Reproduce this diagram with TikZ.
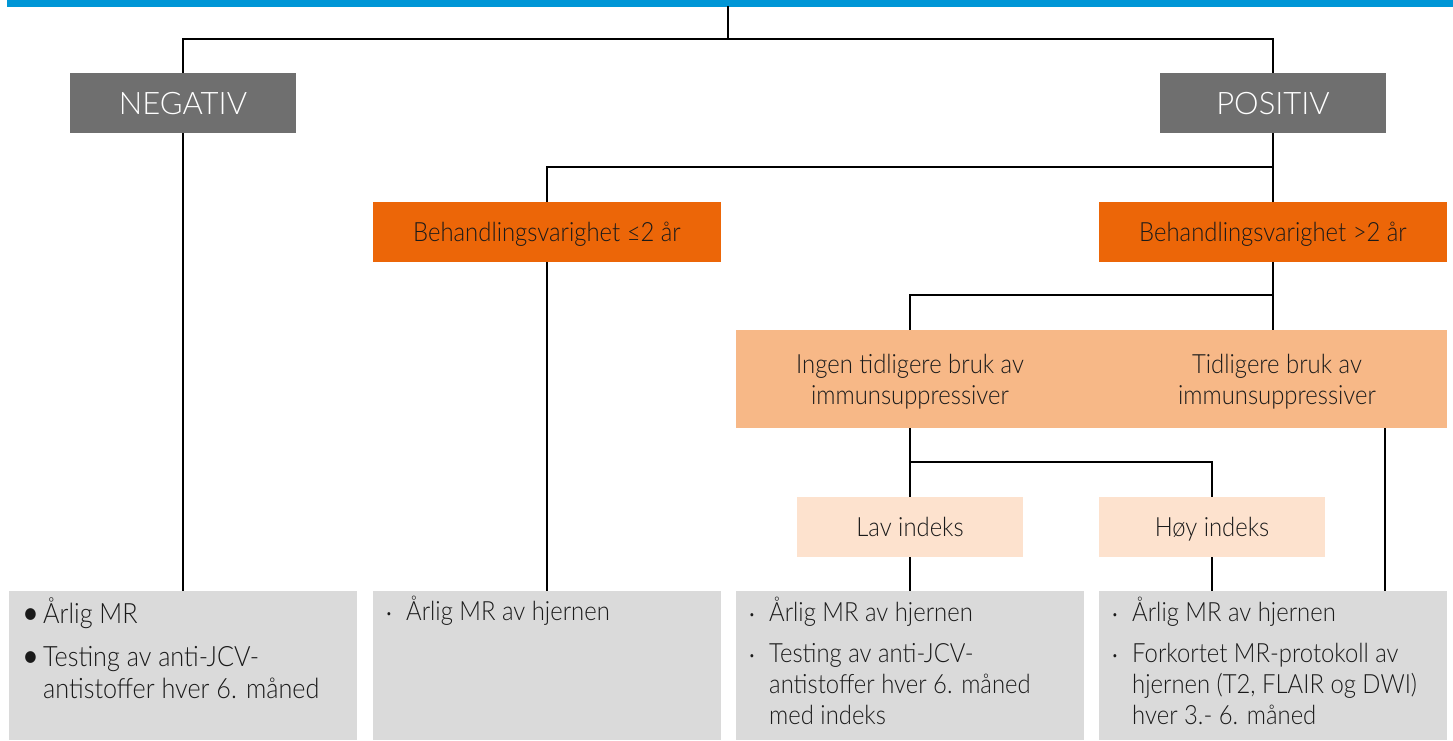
\documentclass[tikz,border=0pt]{standalone}
\usepackage{fontspec}
\setmainfont{Lato Light}
\newfontfamily\bodyfont{Lato Light}[FakeStretch=0.9]
\newfontfamily\hdrfont{Lato Light}
\definecolor{topblue}{HTML}{0096D6}
\definecolor{hdrgray}{HTML}{6F6F6F}
\definecolor{orng}{HTML}{EC6608}
\definecolor{peach}{HTML}{F7B887}
\definecolor{lpeach}{HTML}{FDE2CE}
\definecolor{boxgray}{HTML}{DADADA}
\definecolor{txt}{HTML}{1A1A1A}
\newcommand{\bodysize}{\bodyfont\fontsize{26.5pt}{31pt}\selectfont}
\newcommand{\bodysizeA}{\bodyfont\fontsize{28pt}{32pt}\selectfont}
\newcommand{\itm}[2]{\par\noindent\hangindent=20pt\hangafter=1\makebox[20pt][l]{#1}#2\par}
\newcommand{\sbul}{\raisebox{3pt}{\fontsize{11pt}{11pt}\selectfont\textbullet}}
\newcommand{\bbul}{\hspace*{-3pt}\raisebox{-3pt}{\fontsize{40pt}{40pt}\selectfont\textbullet}}
\begin{document}
\begin{tikzpicture}[x=1pt,y=-1pt,
  conn/.style={draw=black,line width=2pt},
  hdrbox/.style={fill=hdrgray,text=white,minimum width=226pt,minimum height=60pt,inner sep=0pt,
    font=\hdrfont\fontsize{31pt}{31pt}\selectfont,text height=22pt,text depth=0pt},
  orbox/.style={fill=orng,text=txt,minimum width=348pt,minimum height=60pt,inner sep=0pt,
    font=\bodysize,text height=19pt,text depth=0pt},
  pkbox/.style={fill=peach,minimum width=711pt,minimum height=98pt,inner sep=0pt},
  pktext/.style={text=txt,inner sep=0pt,align=center,font=\bodysize,text height=51pt,text depth=0pt},
  lpbox/.style={fill=lpeach,text=txt,minimum width=226pt,minimum height=60pt,inner sep=0pt,
    font=\bodysize,text height=19pt,text depth=0pt},
  gbox/.style={fill=boxgray,minimum width=348pt,minimum height=149pt,inner sep=0pt,anchor=north},
  btext/.style={text=txt,inner sep=0pt,anchor=base west}
]
\useasboundingbox (0,0) rectangle (1453,740);
\fill[topblue] (7,0) rectangle (1453,7);
\coordinate (bar) at (728,6);
\coordinate (j1) at (728,39);
\coordinate (j2) at (0,167);
\coordinate (j3) at (0,295);
\coordinate (j4) at (0,462);
\coordinate (r) at (1385,0);

\node[hdrbox] (neg) at (183,103) {NEGATIV};
\node[hdrbox] (pos) at (1273,103) {POSITIV};
\node[orbox] (o1) at (547,232) {Behandlingsvarighet ≤2 år};
\node[orbox] (o2) at (1273,232) {Behandlingsvarighet >2 år};
\node[pkbox] (pk) at (1091.5,379) {};
\node[pktext] (tA) at (910,379) {Ingen tidligere bruk av\\immunsuppressiver};
\node[pktext] (tB) at (1277,379) {Tidligere bruk av\\immunsuppressiver};
\node[lpbox] (lav) at (910,527) {Lav indeks};
\node[lpbox] (hoy) at (1212,527) {Høy indeks};

\node[gbox] (g1) at (183,591) {};
\node[gbox] (g2) at (547,591) {};
\node[gbox] (g3) at (910,591) {};
\node[gbox] (g4) at (1273,591) {};

\node[btext] (b1) at (23,623) {\parbox[t]{330pt}{\bodysizeA\setlength\parskip{11pt}%
  \itm{\bbul}{Årlig MR}\itm{\bbul}{Testing av anti-JCV-\\antistoffer hver 6. måned}}};
\node[btext] (b2) at (386,620) {\parbox[t]{330pt}{\bodysize\setlength\parskip{10pt}%
  \itm{\sbul}{Årlig MR av hjernen}}};
\node[btext] (b3) at (749,621) {\parbox[t]{330pt}{\bodysize\setlength\parskip{10pt}%
  \itm{\sbul}{Årlig MR av hjernen}\itm{\sbul}{Testing av anti-JCV-\\antistoffer hver 6. måned\\med indeks}}};
\node[btext] (b4) at (1112,621) {\parbox[t]{330pt}{\bodysize\setlength\parskip{10pt}%
  \itm{\sbul}{Årlig MR av hjernen}\itm{\sbul}{Forkortet MR-protokoll av\\hjernen (T2, FLAIR og DWI)\\hver 3.- 6. måned}}};

\draw[conn] (bar) -- (j1);
\draw[conn] (neg.north) -- (neg.north |- j1) -| (pos.north);
\draw[conn] (neg.south) -- (g1.north);
\draw[conn] (pos.south) -- (pos.south |- j2) -| (o1.north);
\draw[conn] (pos.south |- j2) -- (o2.north);
\draw[conn] (o1.south) -- (g2.north);
\draw[conn] (o2.south) -- (o2.south |- j3) -| (tA |- pk.north);
\draw[conn] (o2.south |- j3) -- (o2.south |- pk.north);
\draw[conn] (tA |- pk.south) -- (tA |- j4) -| (hoy.north);
\draw[conn] (tA |- j4) -- (lav.north);
\draw[conn] (lav.south) -- (g3.north);
\draw[conn] (hoy.south) -- (hoy.south |- g4.north);
\draw[conn] (pk.south -| r) -- (g4.north -| r);
\end{tikzpicture}
\end{document}
